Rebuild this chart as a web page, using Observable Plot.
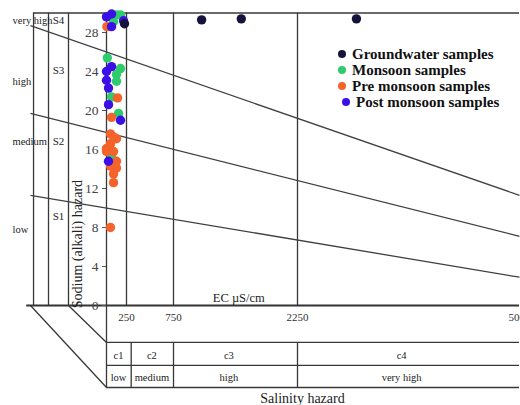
<!DOCTYPE html>
<html><head><meta charset="utf-8">
<script src="https://cdn.jsdelivr.net/npm/d3@7"></script>
<script src="https://cdn.jsdelivr.net/npm/@observablehq/plot@0.6"></script>
<style>
body{margin:0;background:#fff;}
#wrap{position:relative;width:520px;height:405px;overflow:hidden;background:#fff;}
.legend{position:absolute;left:338px;top:46px;font-family:"Liberation Serif","Times New Roman",serif;font-weight:bold;font-size:15px;color:#111;line-height:16px;}
.legend .row{display:flex;align-items:center;white-space:nowrap;}
.legend .sw{width:8px;height:8px;border-radius:50%;margin-right:6px;flex:none;}
</style></head><body><div id="wrap"></div>
<script>
// ---- series ----
const seriesNames = ["Groundwater samples","Monsoon samples","Pre monsoon samples","Post monsoon samples"];
const seriesColors = ["#15133d","#2fcc6e","#f4632a","#3a10e6"];
// EC (µS/cm) and SAR values
const groundwaterEC  = [225, 1090, 1570, 2980];
const groundwaterSAR = [28.9, 29.3, 29.4, 29.4];
const monsoonEC  = [125, 175, 88, 10, 175, 125, 125, 63, 150, 63];
const monsoonSAR = [29.8, 29.8, 29.1, 25.4, 24.3, 23.7, 23.0, 21.4, 19.7, 15.4];
const preEC  = [5, 138, 63, 50, 88, 125, 50, 0, 0, 88, 125, 50, 125, 88, 88, 50];
const preSAR = [28.6, 21.3, 19.3, 17.6, 17.3, 17.1, 16.6, 16.1, 15.8, 15.8, 14.8, 14.3, 14.1, 13.5, 12.6, 8.0];
const postEC  = [0, 63, 213, 63, 63, 0, 0, 25, 25, 175, 25];
const postSAR = [29.6, 29.9, 29.2, 28.6, 24.5, 24.0, 23.1, 22.3, 20.6, 19.0, 14.8];

// ---- axes / ticks ----
const ecTicks  = [250, 750, 2250, 5000];
const sarTicks = [0, 4, 8, 12, 16, 20, 24, 28];
const ecDomain = [-1250, 0, 250, 750, 2250, 5000];   // left part = pseudo-3D side panel
const sarMax = 30;

// ---- salinity classes (table below) ----
const salinityCodes  = ["c1", "c2", "c3", "c4"];
const salinityLevels = ["low", "medium", "high", "very high"];
const salinityLabelEC = [150, 520, 1420, 3540];
const salinityDividersEC = [300, 750, 2250];
const tableRowSAR = [-3.79, -6.15, -8.41];
const tableTextSAR = [-5.1, -7.35];

// ---- sodium classes (left panel) ----
const sodiumLevels = ["very high", "high", "medium", "low"];
const sodiumCodes  = ["S4", "S3", "S2", "S1"];
const sodiumLevelSAR = [29.2, 23.0, 16.8, 7.8];
const sodiumCodeSAR  = [29.2, 24.1, 16.8, 9.1];
const panelLinesEC = [-960, -763, -500];

// ---- sodium hazard boundary lines (SAR at left and right ends) ----
const boundaryLeftEC = -1000, boundaryRightEC = 5000;
const boundaryLeftSAR  = [28.7, 19.7, 11.3];
const boundaryRightSAR = [11.3, 7.1, 2.9];

const samples = [];
const push = (name, ec, sar) => ec.forEach((e, i) => samples.push({series: name, ec: e, sar: sar[i]}));
push(seriesNames[1], monsoonEC, monsoonSAR);
push(seriesNames[2], preEC, preSAR);
push(seriesNames[3], postEC, postSAR);
push(seriesNames[0], groundwaterEC, groundwaterSAR);

const boundaries = boundaryLeftSAR.map((s, i) => ({x1: boundaryLeftEC, y1: s, x2: boundaryRightEC, y2: boundaryRightSAR[i]}));
const bottomDiagonals = [
  {x1: -1000, y1: 0, x2: 0, y2: tableRowSAR[2]},
  {x1: -500, y1: 0, x2: 0, y2: tableRowSAR[0]}
];
const salinityTable = salinityCodes.map((c, i) => ({code: c, level: salinityLevels[i], ec: salinityLabelEC[i]}));
const sodiumTable = sodiumLevels.map((l, i) => ({level: l, code: sodiumCodes[i], ls: sodiumLevelSAR[i], cs: sodiumCodeSAR[i]}));

const ln = {stroke: "#383838", strokeWidth: 1.3};
const serif = "'Liberation Serif', 'Times New Roman', serif";

const chart = Plot.plot({
  width: 520, height: 405,
  marginLeft: 106, marginTop: 13, marginBottom: 100, marginRight: 1,
  style: {fontFamily: serif, background: "#fff", color: "#333"},
  x: {type: "linear", domain: ecDomain, range: [11, 106, 126, 173, 297, 519]},
  y: {type: "linear", domain: [-9, sarMax], range: [392.75, 12.5]},
  color: {domain: seriesNames, range: seriesColors},
  marks: [
    Plot.ruleX(panelLinesEC, {y1: () => 0, y2: () => sarMax, ...ln}),
    Plot.ruleX(ecTicks.slice(0, 3), {y1: () => 0, y2: () => sarMax, ...ln}),
    Plot.ruleX([0], {y1: () => tableRowSAR[2], y2: () => sarMax, ...ln}),
    Plot.ruleY([sarMax], {x1: () => panelLinesEC[0], x2: () => 5000, ...ln}),
    Plot.ruleY([0], {x1: () => -1050, x2: () => 5000, stroke: "#333", strokeWidth: 2.2}),
    Plot.link(bottomDiagonals, {x1: "x1", y1: "y1", x2: "x2", y2: "y2", ...ln}),
    Plot.ruleY(tableRowSAR, {x1: () => 0, x2: () => 5000, ...ln}),
    Plot.ruleX(salinityDividersEC, {y1: () => tableRowSAR[0], y2: () => tableRowSAR[2], ...ln}),
    Plot.link(boundaries, {x1: "x1", y1: "y1", x2: "x2", y2: "y2", stroke: "#404040", strokeWidth: 1.3}),
    Plot.axisX(ecTicks, {anchor: "bottom", tickSize: 0, tickPadding: 8, fontSize: 11, tickFormat: d => String(d), label: null, fill: "#333"}),
    Plot.axisY(sarTicks, {anchor: "left", tickSize: 4, tickPadding: 4, fontSize: 13.5, label: null, fill: "#444", stroke: "#555"}),
    Plot.text(["EC µS/cm"], {x: () => 1540, y: () => 0.75, fontSize: 12.5, fill: "#222"}),
    Plot.text(["Sodium (alkali) hazard"], {x: () => -382, y: () => 6.3, rotate: -90, fontSize: 14, fill: "#222"}),
    Plot.text(["Salinity hazard"], {x: () => 2312, y: () => -9.55, fontSize: 14, fill: "#222"}),
    Plot.text(salinityTable, {x: "ec", y: () => tableTextSAR[0], text: "code", fontSize: 10.5, fill: "#222"}),
    Plot.text(salinityTable, {x: "ec", y: () => tableTextSAR[1], text: "level", fontSize: 10.5, fill: "#222"}),
    Plot.text(sodiumTable, {x: () => -1237, y: "ls", text: "level", textAnchor: "start", fontSize: 10.5, fill: "#222"}),
    Plot.text(sodiumTable, {x: () => -632, y: "cs", text: "code", fontSize: 11, fill: "#222"}),
    Plot.dot(samples, {x: "ec", y: "sar", fill: "series", r: 4.7})
  ]
});
const wrap = document.getElementById("wrap");
wrap.appendChild(chart);

const legend = document.createElement("div");
legend.className = "legend";
seriesNames.forEach((name, i) => {
  const row = document.createElement("div");
  row.className = "row";
  if (i === 3) row.style.marginLeft = "4px";
  const sw = document.createElement("span");
  sw.className = "sw";
  sw.style.background = seriesColors[i];
  const t = document.createElement("span");
  t.textContent = name;
  row.appendChild(sw); row.appendChild(t);
  legend.appendChild(row);
});
wrap.appendChild(legend);
</script></body></html>
